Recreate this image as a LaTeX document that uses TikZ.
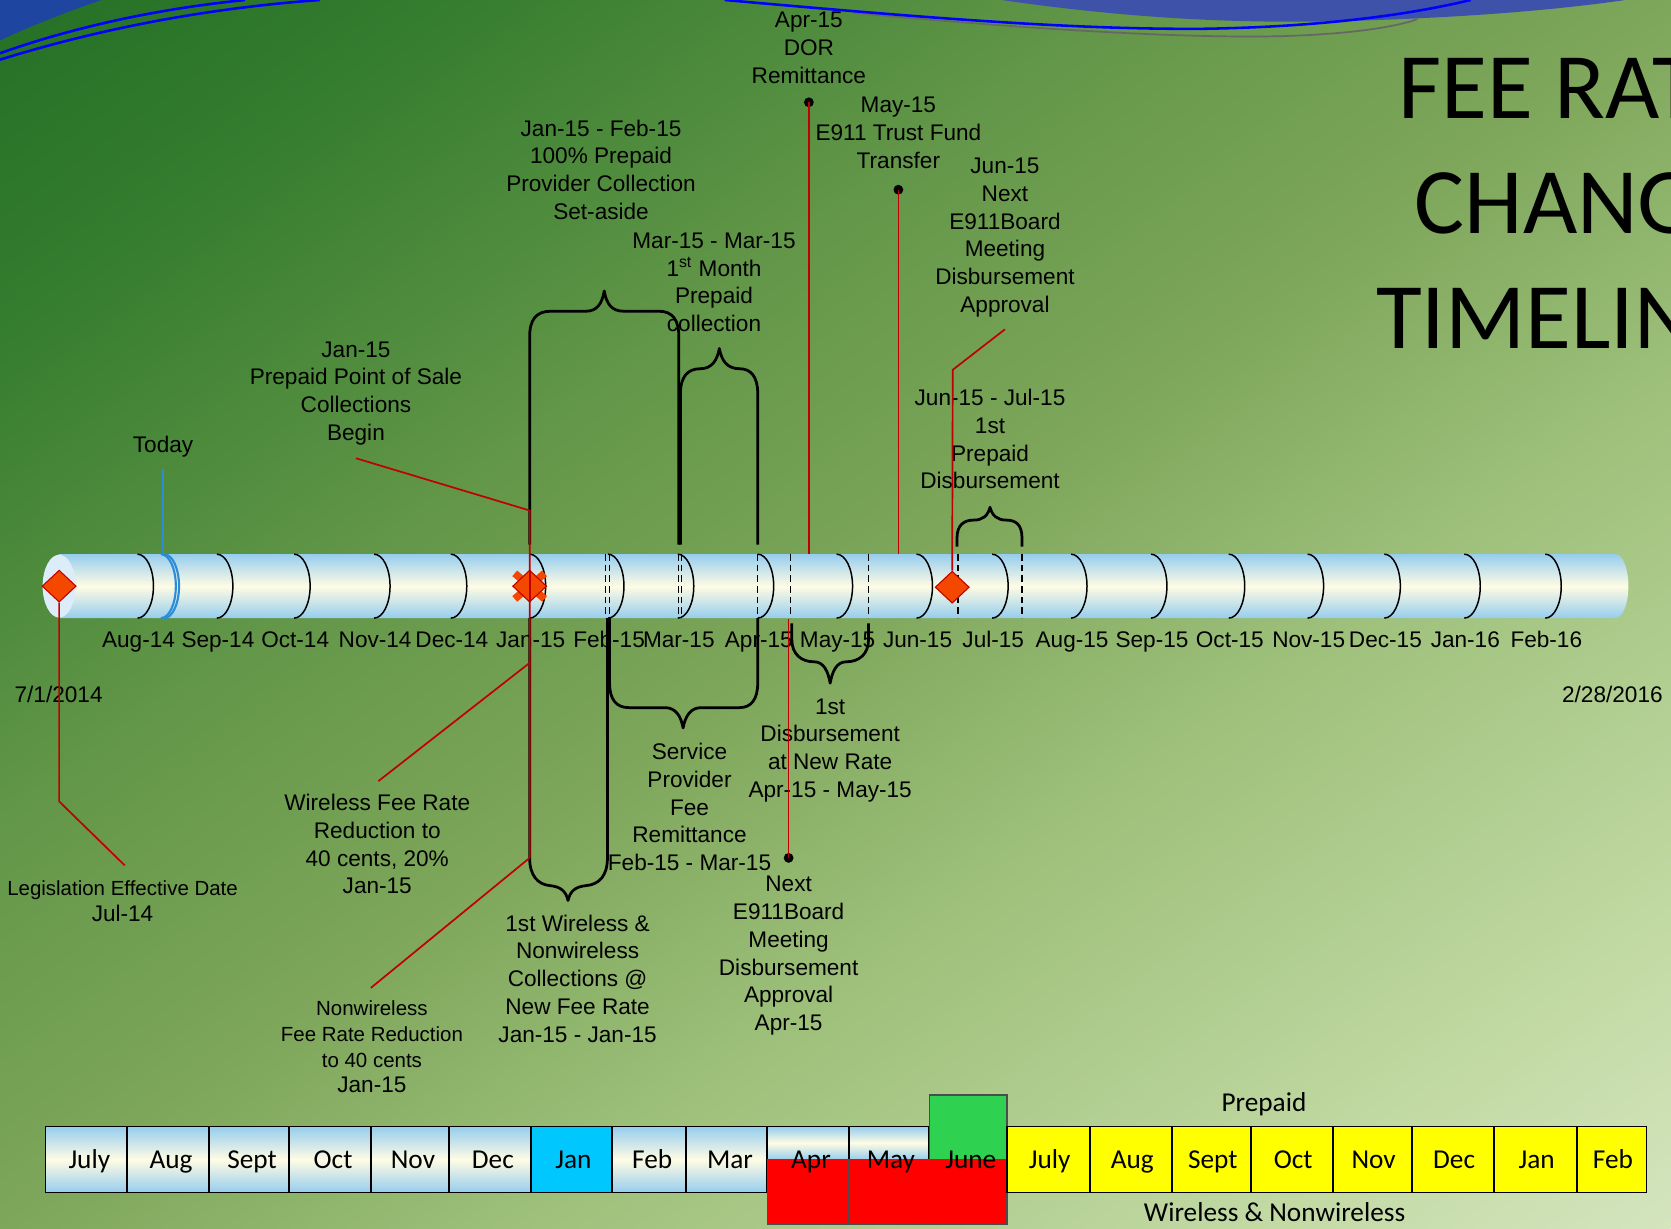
\documentclass[tikz,border=0pt]{standalone}
\usepackage{fontspec}
\setmainfont{Liberation Sans}
\newfontfamily\calfont{Carlito}
\usetikzlibrary{shapes.geometric}
\definecolor{gA}{RGB}{36,112,38}
\definecolor{gB}{RGB}{52,124,46}
\definecolor{gC}{RGB}{98,150,72}
\definecolor{gD}{RGB}{125,166,90}
\definecolor{gE}{RGB}{160,194,125}
\definecolor{gF}{RGB}{195,218,165}
\definecolor{gG}{RGB}{212,229,190}
\pgfdeclareverticalshading{bgsh}{100bp}{color(0bp)=(gG); color(25bp)=(gG); color(30.9bp)=(gF); color(41.6bp)=(gE); color(50.2bp)=(gD); color(58.3bp)=(gC); color(68.5bp)=(gB); color(75bp)=(gA); color(100bp)=(gA)}
\definecolor{cylblue}{RGB}{150,205,238}
\definecolor{cream}{RGB}{255,252,228}
\definecolor{faceblue}{RGB}{220,236,248}
\definecolor{lnred}{RGB}{192,0,0}
\definecolor{dmfill}{RGB}{244,72,0}
\definecolor{swblue}{RGB}{0,0,255}
\definecolor{swband}{RGB}{63,82,170}
\definecolor{swdark}{RGB}{30,70,160}
\definecolor{todayblue}{RGB}{45,140,215}
\definecolor{jancyan}{RGB}{0,200,255}
\definecolor{grn}{RGB}{46,210,80}
\definecolor{ylw}{RGB}{255,255,0}
\tikzset{
 lbl/.style={font=\fontsize{10.6}{13}\selectfont, align=center, inner sep=0pt, anchor=north},
 slbl/.style={font=\fontsize{9.6}{12}\selectfont, align=center, inner sep=0pt, anchor=north},
 mlbl/.style={font=\fontsize{10.6}{13}\selectfont, inner sep=0pt, anchor=base},
 redl/.style={draw=lnred, line width=0.8pt},
 brc/.style={draw=black, line width=1.3pt, line join=round},
 divider/.style={draw=black, line width=0.7pt},
 dsh/.style={draw=black, line width=0.6pt, dash pattern=on 3pt off 2pt},
 diam/.style={shape=diamond, draw=lnred, fill=dmfill, line width=0.5pt, minimum width=16pt, minimum height=15pt, inner sep=0pt},
 blackdot/.style={circle, fill=black, inner sep=0pt, minimum size=4.6pt},
 mbox/.style={draw=black, line width=0.8pt},
 gbox/.style={top color=cylblue, bottom color=cylblue, middle color=cream},
 btxt/.style={font=\calfont\fontsize{12.8}{15}\selectfont, inner sep=0pt, anchor=base},
 ttl/.style={font=\calfont\fontsize{44}{50}\selectfont, inner sep=0pt, anchor=base west},
 swline/.style={draw=swblue, line width=1.2pt},
 todayl/.style={draw=todayblue, line width=1pt},
}
\begin{document}
\begin{tikzpicture}[x=0.5pt,y=-0.5pt]
\useasboundingbox (0,0) rectangle (1568,1153);
\clip (0,0) rectangle (1568,1153);
% background
\begin{scope}[transform canvas={rotate around={36.3:(784,576)}}]
\shade[shading=bgsh] (-616,-353) rectangle (2184,1505);
\end{scope}
% swooshes
\fill[swdark] (0,0) -- (95,0) .. controls (60,12) and (25,26) .. (0,38) -- cycle;
\draw[swline] (0,56) .. controls (90,28) and (190,8) .. (300,0);
\draw[swline] (0,50) .. controls (70,25) and (150,8) .. (230,0);
\fill[swband] (940,0) .. controls (1050,16) and (1150,22) .. (1250,20) .. controls (1380,17) and (1470,8) .. (1525,0) -- cycle;
\draw[draw=black!60, line width=0.8pt] (800,12) .. controls (950,26) and (1100,36) .. (1200,34) .. controls (1270,32) and (1310,25) .. (1330,18);
\draw[swline] (680,0) .. controls (850,15) and (1000,28) .. (1130,27) .. controls (1250,25) and (1330,12) .. (1380,0);
% title
\node[ttl] (t1) at (1312,111) {FEE RATE};
\node[ttl] (t2) at (1327,219) {CHANGE};
\node[ttl] (t3) at (1291,327) {TIMELINE};
% cylinder
\shade[top color=cylblue, bottom color=cylblue, middle color=cream] (55,520) -- (1516,520) arc[start angle=-90, end angle=90, x radius=12, y radius=30] -- (55,580) -- cycle;
\fill[faceblue] (55.5,550) ellipse[x radius=15.5, y radius=29.5];
\foreach \x/\t [count=\i] in {129/Aug-14, 203.5/Sep-14, 276/Oct-14, 351/Nov-14, 423/Dec-14, 497/Jan-15, 570.5/Feb-15, 636/Mar-15, 711/Apr-15, 785/May-15, 860/Jun-15, 931/Jul-15, 1005/Aug-15, 1080/Sep-15, 1153/Oct-15, 1227/Nov-15, 1299/Dec-15, 1374/Jan-16, 1450/Feb-16}{
  \draw[divider] (\x,520) arc[start angle=-90, end angle=90, x radius=15, y radius=30];
  \node[mlbl] (m\i) at (\x+1,608) {\t};
}
\draw[todayl] (151,520) arc[start angle=-90, end angle=90, x radius=14, y radius=30];
\draw[todayl] (154,520) arc[start angle=-90, end angle=90, x radius=14, y radius=30];
\foreach \x in {568.5,572,636.5,639.5,711,742,815,899,959}{
  \draw[dsh] (\x,520) -- (\x,580);
}
% braces
\draw[brc] (497,511) -- (497,316) .. controls (497,300) and (503,292) .. (517,292) -- (550,292) .. controls (560,292) and (565,285) .. (567,273) .. controls (569,285) and (574,292) .. (585,292) -- (618,292) .. controls (631,292) and (637,300) .. (637,316) -- (637,511);
\draw[brc] (638.5,511) -- (638.5,369) .. controls (638.5,354) and (645,346) .. (657,346) .. controls (668,346) and (673,338) .. (675,327) .. controls (677,338) and (682,346) .. (694,346) .. controls (705,346) and (711,354) .. (711,369) -- (711,511);
\draw[brc] (898,513) -- (898,505) .. controls (898,492) and (905,488) .. (914,488) .. controls (922,488) and (927,484) .. (929,476) .. controls (931,484) and (936,488) .. (944,488) .. controls (953,488) and (959,492) .. (959,505) -- (959,513);
\draw[brc] (572,580) -- (572,641) .. controls (572,656) and (578,664) .. (590,664) -- (624,664) .. controls (634,664) and (639,672) .. (641,683) .. controls (643,672) and (648,664) .. (658,664) -- (694,664) .. controls (705,664) and (711,656) .. (711,641) -- (711,580);
\draw[brc] (497,580) -- (497,805) .. controls (497,822) and (505,830) .. (516,831) .. controls (526,832) and (531,836) .. (533,845) .. controls (535,836) and (540,832) .. (550,831) .. controls (562,830) and (570,822) .. (570,805) -- (570,580);
\draw[brc] (743,585) -- (743,600) .. controls (743,614) and (752,621) .. (764,621) .. controls (773,621) and (777,630) .. (779,641) .. controls (781,630) and (785,621) .. (794,621) .. controls (806,621) and (815,614) .. (815,600) -- (815,585);
% labels
\node[lbl] (lApr) at (759,11) {Apr-15\\DOR\\Remittance};
\node[lbl] (lMay) at (843,91) {May-15\\E911 Trust Fund\\Transfer};
\node[lbl] (lJun) at (943,148) {Jun-15\\Next\\E911Board\\Meeting\\Disbursement\\Approval};
\node[lbl] (lSet) at (564,112) {Jan-15 - Feb-15\\100\% Prepaid\\Provider Collection\\Set-aside};
\node[lbl] (lMar) at (670,218) {Mar-15 - Mar-15\\1\textsuperscript{st} Month\\Prepaid\\collection};
\node[lbl] (lPos) at (334,320) {Jan-15\\Prepaid Point of Sale\\Collections\\Begin};
\node[lbl] (lToday) at (153,409) {Today};
\node[lbl] (lJul) at (929,365) {Jun-15 - Jul-15\\1st\\Prepaid\\Disbursement};
\node[lbl] (lSpf) at (647,697) {Service\\Provider\\Fee\\Remittance\\Feb-15 - Mar-15};
\node[lbl] (lDis) at (779,655) {1st\\Disbursement\\at New Rate\\Apr-15 - May-15};
\node[lbl] (lNext) at (740,822) {Next\\E911Board\\Meeting\\Disbursement\\Approval\\Apr-15};
\node[lbl] (lWfr) at (354,745) {Wireless Fee Rate\\Reduction to\\40 cents, 20\%\\Jan-15};
\node[slbl] (lLeg) at (115,826) {Legislation Effective Date\\{\fontsize{10.6}{13}\selectfont Jul-14}};
\node[lbl] (l1st) at (542,858) {1st Wireless \&\\Nonwireless\\Collections @\\New Fee Rate\\Jan-15 - Jan-15};
\node[slbl] (lNon) at (349,939) {Nonwireless\\Fee Rate Reduction\\to 40 cents\\{\fontsize{10.6}{13}\selectfont Jan-15}};
\node[lbl] (lStart) at (55,643) {7/1/2014};
\node[lbl] (lEnd) at (1513,643) {2/28/2016};
% today line
\coordinate (cTodayTop) at (153,440);
\coordinate (cTodayBot) at (153,520);
\draw[todayl] (cTodayTop) -- (cTodayBot);
% markers
\node[blackdot] (pApr) at (759,96) {};
\node[blackdot] (pMay) at (843,178) {};
\node[blackdot] (pNext) at (740,805) {};
\coordinate (cAprTop) at (759,520);
\coordinate (cMayTop) at (843,520);
\coordinate (cNextBot) at (740,581);
\coordinate (cLegBend) at (55.5,752);
\coordinate (cLegEnd) at (117,812);
\coordinate (cPosEnd) at (334,430);
\coordinate (cJanA) at (497,479);
\coordinate (cJanB) at (497,622);
\coordinate (cJanC) at (497,805);
\coordinate (cWfr) at (355,733);
\coordinate (cNon) at (348,927);
\coordinate (cJunEnd) at (943,309);
\coordinate (cJunBend) at (894,347);
\draw[redl] (pApr.center) -- (cAprTop);
\draw[redl] (pMay.center) -- (cMayTop);
\draw[redl] (pNext.center) -- (cNextBot);
\draw[redl] (cPosEnd) -- (cJanA) -- (cJanC);
\draw[redl] (cJanB) -- (cWfr);
\draw[redl] (cJanC) -- (cNon);
\draw[line width=3.5pt, dmfill] (483,538) -- (511,562) (483,562) -- (511,538);
\node[diam] (dJul) at (55.5,550) {};
\node[diam] (dJan) at (497,550) {};
\node[diam] (dJun) at (893.5,551) {};
\draw[redl] (dJul.south) -- (cLegBend) -- (cLegEnd);
\draw[redl] (cJunEnd) -- (cJunBend) -- (dJun.north);
\draw[lnred, line width=0.8pt] (497,535) -- (497,565);
% month boxes
\foreach \a/\b/\t/\n in {42.7/119/July/bJul14, 119/196/Aug/bAug14, 196/271/Sept/bSep14, 271/348/Oct/bOct14, 348/421/Nov/bNov14, 421/498/Dec/bDec14, 574/644/Feb/bFeb15, 644/720/Mar/bMar15}{
  \draw[mbox, gbox] (\a,1057) rectangle (\b,1119);
  \node[btxt] (\n) at ({(\a+\b)/2+3},1096) {\t};
}
\draw[mbox, fill=jancyan] (498,1057) rectangle (574,1119);
\node[btxt] (bJan15) at (538,1096) {Jan};
\draw[mbox, gbox] (720,1057) rectangle (796.5,1088);
\draw[mbox, gbox] (796.5,1057) rectangle (872,1088);
\draw[draw=black!70, line width=0.6pt, fill=grn] (872,1027.5) rectangle (945,1088);
\draw[draw=black!70, line width=0.6pt, fill=red] (720,1088) rectangle (796.5,1148.5);
\draw[draw=black!70, line width=0.6pt, fill=red] (796.5,1088) rectangle (872,1148.5);
\draw[draw=black!70, line width=0.6pt, fill=red] (872,1088) rectangle (945,1148.5);
\node[btxt] (bApr15) at (761,1096) {Apr};
\node[btxt] (bMay15) at (836,1096) {May};
\node[btxt] (bJun15) at (911,1096) {June};
\foreach \a/\b/\t/\n in {945/1023/July/bJul15, 1023/1100/Aug/bAug15, 1100/1174/Sept/bSep15, 1174/1251/Oct/bOct15, 1251/1325/Nov/bNov15, 1325/1402/Dec/bDec15, 1402/1480/Jan/bJan16, 1480/1545/Feb/bFeb16}{
  \draw[mbox, fill=ylw] (\a,1057) rectangle (\b,1119);
  \node[btxt] (\n) at ({(\a+\b)/2+1},1096) {\t};
}
\node[btxt] (pre) at (1186,1043) {Prepaid};
\node[btxt] (wnw) at (1196,1146) {Wireless \& Nonwireless};
\end{tikzpicture}
\end{document}
